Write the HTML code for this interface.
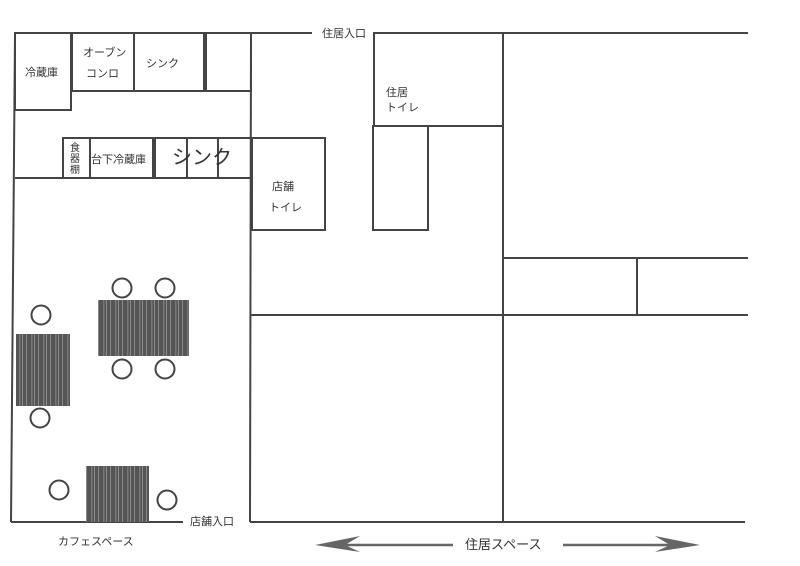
<!DOCTYPE html>
<html><head><meta charset="utf-8"><style>
html,body{margin:0;padding:0;background:#fff;width:800px;height:566px;overflow:hidden}
svg{display:block}
text{font-family:"Liberation Sans","Noto Sans CJK JP",sans-serif;fill:#333}
</style></head><body>
<svg width="800" height="566" viewBox="0 0 800 566" xmlns="http://www.w3.org/2000/svg">
<defs>
<pattern id="wood" width="12" height="10" patternUnits="userSpaceOnUse">
<rect width="12" height="10" fill="#555"/>
<rect x="2" width="1" height="10" fill="#888"/>
<rect x="7" width="1.5" height="10" fill="#777"/>
<rect x="10" width="0.8" height="10" fill="#999"/>
</pattern>
</defs>
<g stroke="#444" stroke-width="2" fill="none">
<!-- outer cafe/kitchen -->
<line x1="15" y1="33" x2="312" y2="33"/>
<line x1="15" y1="33" x2="11" y2="522"/>
<line x1="11" y1="522" x2="183" y2="522"/>
<line x1="251" y1="33" x2="250" y2="522"/>
<!-- kitchen top -->
<rect x="15" y="33" width="56" height="77"/>
<rect x="72" y="33" width="62" height="58"/>
<rect x="134" y="33" width="70" height="58"/>
<rect x="206" y="33" width="45" height="58"/>
<!-- counter -->
<line x1="15" y1="178" x2="251" y2="178"/>
<rect x="63" y="138" width="27" height="40"/>
<rect x="90" y="138" width="63" height="40"/>
<rect x="155" y="138" width="32" height="40"/>
<rect x="187" y="138" width="31" height="40"/>
<rect x="218" y="138" width="33" height="40"/>
<!-- shop toilet -->
<rect x="252" y="138" width="73" height="92"/>
<!-- residence -->
<line x1="373" y1="33" x2="748" y2="33"/>
<rect x="374" y="33" width="129" height="93"/>
<rect x="373" y="126" width="55" height="104"/>
<line x1="503" y1="33" x2="503" y2="522"/>
<line x1="251" y1="315" x2="748" y2="315"/>
<line x1="503" y1="258" x2="748" y2="258"/>
<line x1="637" y1="258" x2="637" y2="315"/>
<line x1="250" y1="522" x2="745" y2="522"/>
</g>
<!-- tables -->
<rect x="98" y="300" width="91" height="56" fill="url(#wood)"/>
<rect x="16" y="334" width="54" height="72" fill="url(#wood)"/>
<rect x="86" y="466" width="63" height="56" fill="url(#wood)"/>
<g stroke="#444" stroke-width="2" fill="#fff">
<circle cx="122" cy="288" r="9.5"/><circle cx="165" cy="288" r="9.5"/>
<circle cx="122" cy="369" r="9.5"/><circle cx="165" cy="369" r="9.5"/>
<circle cx="41" cy="315" r="9.5"/><circle cx="40" cy="418" r="9.5"/>
<circle cx="59" cy="490" r="9.5"/><circle cx="167" cy="500" r="9.5"/>
</g>
<!-- labels -->
<g font-size="11">
<text x="25" y="76">冷蔵庫</text>
<text x="83" y="56">オーブン</text>
<text x="86" y="77">コンロ</text>
<text x="146" y="67">シンク</text>
<text x="70" y="151" font-size="10">食</text>
<text x="70" y="162" font-size="10">器</text>
<text x="70" y="173" font-size="10">棚</text>
<text x="91" y="163">台下冷蔵庫</text>
<text x="172" y="164" font-size="20">シンク</text>
<text x="272" y="190">店舗</text>
<text x="269" y="211">トイレ</text>
<text x="386" y="96">住居</text>
<text x="386" y="111">トイレ</text>
<text x="322" y="37">住居入口</text>
<text x="190" y="525">店舗入口</text>
<text x="58" y="545">カフェスペース</text>
<text x="465" y="549" font-size="13">住居スペース</text>
</g>
<!-- arrow -->
<g stroke="#666" stroke-width="2.5" fill="#666">
<line x1="325" y1="545" x2="453" y2="545"/>
<line x1="563" y1="545" x2="690" y2="545"/>
</g>
<polygon points="315,545 360,536 345,545 360,552" fill="#666"/>
<polygon points="700,545 655,536 670,545 655,552" fill="#666"/>
</svg>
</body></html>
